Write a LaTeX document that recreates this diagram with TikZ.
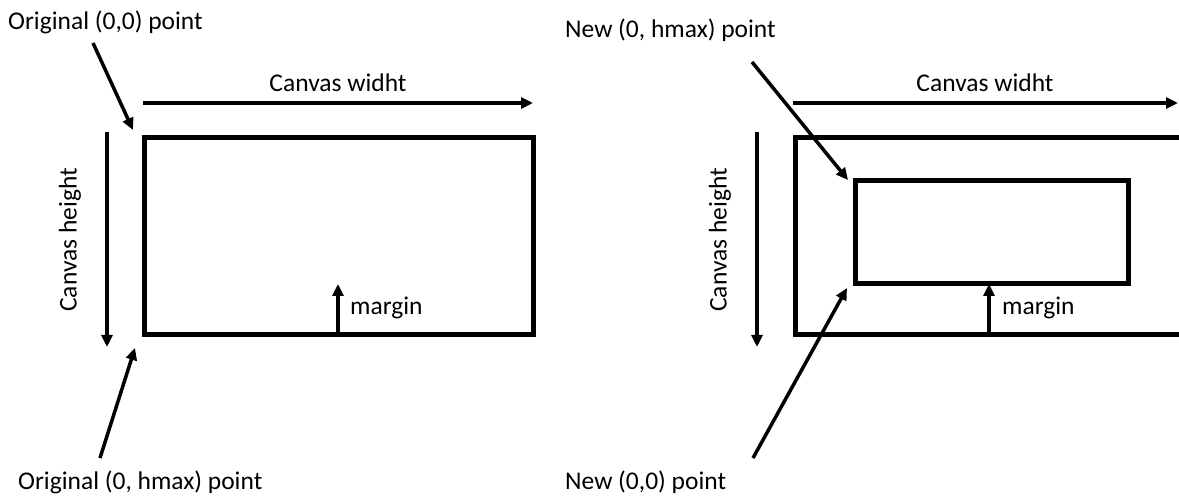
\documentclass[tikz,border=0pt]{standalone}
\usepackage{fontspec}
\setmainfont{Carlito}
\usetikzlibrary{arrows.meta}
\begin{document}
\begin{tikzpicture}[x=1pt,y=-1pt,
  lbl/.style={inner sep=0pt, font=\fontsize{25.5}{30}\selectfont},
  arr/.style={line width=3.5pt, -{Triangle[length=12pt,width=11pt]}},
  box/.style={line width=5pt}]
\useasboundingbox (0,0) rectangle (1179,497);
% ---------- left panel ----------
\node[lbl, anchor=west] (o00) at (8,22) {Original (0,0) point};
\node[lbl] (cw1) at (338,83) {Canvas widht};
\node[lbl, rotate=90] (ch1) at (70,240) {Canvas height};
\node[lbl, anchor=west] (m1) at (350,308) {margin};
\node[lbl, anchor=west] (ohm) at (18,482) {Original (0, hmax) point};
\draw[box] (144,138) rectangle (533,335);
\coordinate (a1s) at (93,43);  \coordinate (a1e) at (133,130);
\draw[arr] (a1s) -- (a1e);
\coordinate (w1s) at (143,103); \coordinate (w1e) at (533,103);
\draw[arr] (w1s) -- (w1e);
\coordinate (h1s) at (107,132); \coordinate (h1e) at (107,347);
\draw[arr] (h1s) -- (h1e);
\coordinate (mg1s) at (338,335); \coordinate (mg1e) at (338,284);
\draw[arr] (mg1s) -- (mg1e);
\coordinate (b1s) at (100,458); \coordinate (b1e) at (135,348);
\draw[arr] (b1s) -- (b1e);
% ---------- right panel ----------
\node[lbl, anchor=west] (nhm) at (565,30) {New (0, hmax) point};
\node[lbl] (cw2) at (985,83) {Canvas widht};
\node[lbl, rotate=90] (ch2) at (720,240) {Canvas height};
\node[lbl, anchor=west] (m2) at (1002,308) {margin};
\node[lbl, anchor=west] (n00) at (565,482) {New (0,0) point};
\draw[box] (1179,138) -- (795,138) -- (795,335) -- (1179,335);
\draw[box] (855,181) rectangle (1128,284);
\coordinate (a2s) at (752,62);  \coordinate (a2e) at (848,180);
\draw[arr] (a2s) -- (a2e);
\coordinate (w2s) at (793,103); \coordinate (w2e) at (1178,103);
\draw[arr] (w2s) -- (w2e);
\coordinate (h2s) at (757,132); \coordinate (h2e) at (757,347);
\draw[arr] (h2s) -- (h2e);
\coordinate (mg2s) at (989,335); \coordinate (mg2e) at (989,284);
\draw[arr] (mg2s) -- (mg2e);
\coordinate (b2s) at (753,458); \coordinate (b2e) at (847,288);
\draw[arr] (b2s) -- (b2e);
\end{tikzpicture}
\end{document}
